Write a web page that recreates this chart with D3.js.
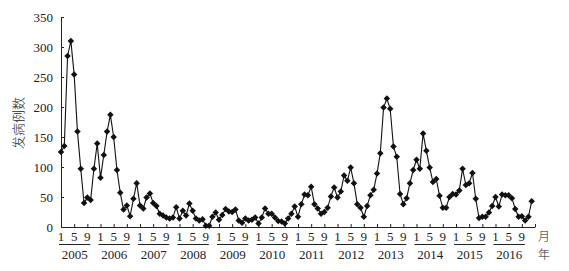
<!DOCTYPE html>
<html>
<head>
<meta charset="utf-8">
<script src="https://cdn.jsdelivr.net/npm/d3@7"></script>
<style>
  html, body { margin: 0; padding: 0; background: #fff; }
  svg { display: block; }
  text { font-family: "Liberation Serif", "DejaVu Serif", serif; fill: #222; }
</style>
</head>
<body>
<svg id="chart" width="569" height="271"></svg>
<script>
// ---- data ----
const years = ["2005","2006","2007","2008","2009","2010","2011","2012","2013","2014","2015","2016"];
const monthLabels = ["1","5","9"];
const monthLabelIndex = [0, 4, 8];
const yTicks = [0, 50, 100, 150, 200, 250, 300, 350];
const cases = [
  125,135,285,310,254,159,97,40,49,45,97,139,
  82,120,159,187,150,95,57,29,36,18,47,73,
  36,31,49,56,40,35,22,19,16,14,16,33,
  14,27,19,39,27,14,11,13,2,2,17,24,
  12,20,30,26,25,29,11,7,14,11,12,16,
  6,16,31,22,22,16,10,9,6,14,22,34,
  17,38,54,53,67,38,31,22,25,32,51,66,
  49,59,86,77,99,73,38,32,17,35,53,62,
  89,123,199,214,197,134,117,55,38,48,73,95,
  112,97,156,127,99,75,80,52,32,32,50,55,
  54,61,97,70,73,90,47,15,17,17,24,35,
  50,34,54,53,53,48,30,17,18,11,17,43
];
const yTitle = "发病例数";
const monthUnit = "月";
const yearUnit = "年";

// ---- layout ----
const svg = d3.select("#chart");
const x = d3.scaleLinear().domain([0, 144]).range([61, 535]);
const y = d3.scaleLinear().domain([0, 350]).range([227, 17]);

// y axis
const yAxis = svg.append("g")
  .attr("transform", `translate(${x(0)},0)`)
  .call(d3.axisLeft(y).tickValues(yTicks).tickSize(-3).tickPadding(8).tickSizeOuter(0));
yAxis.select(".domain").attr("stroke", "#222");
yAxis.selectAll(".tick line").attr("stroke", "#222");
yAxis.selectAll("text").style("font-size", "13px").style("font-family", "Liberation Serif, serif").attr("fill", "#222");

// x axis
const xAxis = svg.append("g")
  .attr("transform", `translate(0,${y(0)})`)
  .call(d3.axisBottom(x).tickValues(d3.range(0, 145, 4)).tickSize(-3).tickSizeOuter(0).tickFormat(""));
xAxis.select(".domain").attr("stroke", "#222");
xAxis.selectAll(".tick line").attr("stroke", "#222");

// month labels, underline, year labels
years.forEach((yr, k) => {
  const g = svg.append("g");
  monthLabelIndex.forEach((mi, j) => {
    g.append("text")
      .attr("x", x(k * 12 + mi))
      .attr("y", 241)
      .attr("text-anchor", "middle")
      .style("font-size", "13px")
      .text(monthLabels[j]);
  });
  g.append("line")
    .attr("x1", x(k * 12) - 2).attr("x2", x(k * 12 + 8) + 3)
    .attr("y1", 244.5).attr("y2", 244.5)
    .attr("stroke", "#222").attr("stroke-width", 1);
  g.append("text")
    .attr("x", (x(k * 12) + x(k * 12 + 8)) / 2 + 0.5)
    .attr("y", 259)
    .attr("text-anchor", "middle")
    .style("font-size", "13px")
    .text(yr);
});

svg.append("text")
  .attr("x", 544).attr("y", 241)
  .attr("text-anchor", "middle")
  .style("font-family", "Noto Sans CJK SC, sans-serif")
  .style("font-size", "12px")
  .style("font-weight", "300")
  .text(monthUnit);
svg.append("text")
  .attr("x", 544).attr("y", 259)
  .attr("text-anchor", "middle")
  .style("font-family", "Noto Sans CJK SC, sans-serif")
  .style("font-size", "12px")
  .style("font-weight", "300")
  .text(yearUnit);

// y title
svg.append("text")
  .attr("transform", `translate(23,${(y(0) + y(350)) / 2 + 1}) rotate(-90)`)
  .attr("text-anchor", "middle")
  .style("font-family", "Noto Sans CJK SC, sans-serif")
  .style("font-size", "13px")
  .style("font-weight", "300")
  .text(yTitle);

// line
const line = d3.line().x((d, i) => x(i)).y(d => y(d));
svg.append("path")
  .datum(cases)
  .attr("d", line)
  .attr("fill", "none")
  .attr("stroke", "#111")
  .attr("stroke-width", 1.1);

// markers (diamonds)
const sym = d3.symbol().type(d3.symbolSquare).size(21);
svg.append("g")
  .selectAll("path")
  .data(cases)
  .join("path")
  .attr("d", sym)
  .attr("transform", (d, i) => `translate(${x(i)},${y(d)}) rotate(45)`)
  .attr("fill", "#111");
</script>
</body>
</html>
